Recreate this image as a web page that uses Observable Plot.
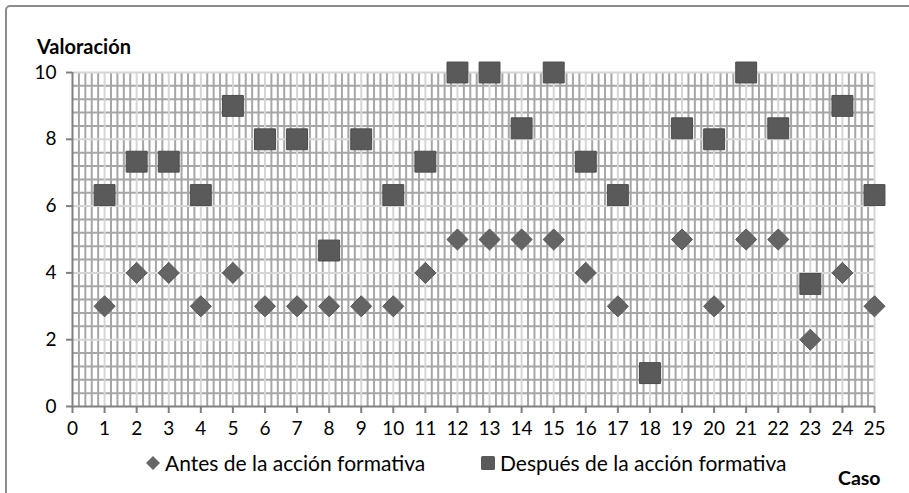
<!DOCTYPE html>
<html><head><meta charset="utf-8">
<script src="https://cdn.jsdelivr.net/npm/d3@7"></script>
<script src="https://cdn.jsdelivr.net/npm/@observablehq/plot@0.6"></script>
<style>
body{margin:0;background:#fff;}
#wrap{position:relative;width:909px;height:493px;overflow:hidden;font-family:Lato,"Open Sans",sans-serif;color:#000;}
#frame{position:absolute;left:5px;top:5px;width:930px;height:520px;border:2px solid #8c8c8c;border-radius:5px;box-sizing:border-box;}
#chart{position:absolute;left:0;top:0;}
.t{position:absolute;white-space:nowrap;line-height:1;}
.b{font-weight:bold;}
.leg{font-size:21px;}
.sw{position:absolute;}
</style></head>
<body><div id="wrap"><div id="frame"></div><div id="chart"></div>
<div class="t b" style="left:37px;top:36px;font-size:20px;">Valoración</div>
<div class="t b" style="left:838px;top:468px;font-size:19.5px;">Caso</div>
<svg class="sw" style="left:145px;top:455px" width="16" height="16"><path d="M8 1L15 8L8 15L1 8Z" fill="#666"/></svg>
<div class="t leg" style="left:165px;top:452px;">Antes de la acción formativa</div>
<svg class="sw" style="left:480px;top:455px" width="16" height="16"><rect x="1" y="1" width="14" height="14" rx="1.5" fill="#5a5a5a"/></svg>
<div class="t leg" style="left:500px;top:452px;">Después de la acción formativa</div>
</div>
<script>
const casos = [1,2,3,4,5,6,7,8,9,10,11,12,13,14,15,16,17,18,19,20,21,22,23,24,25];
const antes = [3,4,4,3,4,3,3,3,3,3,4,5,5,5,5,4,3,1,5,3,5,5,2,4,3];
const despues = [6.33,7.33,7.33,6.33,9,8,8,4.67,8,6.33,7.33,10,10,8.33,10,7.33,6.33,1,8.33,8,10,8.33,3.67,9,6.33];
const xTicks = [0,1,2,3,4,5,6,7,8,9,10,11,12,13,14,15,16,17,18,19,20,21,22,23,24,25];
const yTicks = [0,2,4,6,8,10];

function notInt(v){ return Math.abs(v - Math.round(v)) > 1e-6; }
const minorX = d3.range(0, 125).map(i => i / 5).filter(notInt);
const minorY = d3.range(0, 26).map(i => i * 0.4).filter(v => notInt(v / 2));

const antesData = casos.map((c, i) => ({caso: c, v: antes[i]}));
const despuesData = casos.map((c, i) => ({caso: c, v: despues[i]}));

const gridCol = "#a6a6a6", majorCol = "#d6d6d6", axisCol = "#808080";
const plot = Plot.plot({
  width: 909, height: 493,
  marginLeft: 72, marginRight: 35, marginTop: 72, marginBottom: 87,
  style: {fontFamily: "Lato, 'Open Sans', sans-serif", color: "#000", background: "transparent"},
  x: {domain: [0, 25]},
  y: {domain: [0, 10]},
  marks: [
    Plot.gridX(minorX, {stroke: gridCol, strokeWidth: 2, strokeOpacity: 1}),
    Plot.gridY(minorY, {stroke: gridCol, strokeWidth: 2, strokeOpacity: 1}),
    Plot.gridX(xTicks.slice(1), {stroke: majorCol, strokeWidth: 2, strokeOpacity: 1}),
    Plot.gridY(yTicks.slice(1), {stroke: majorCol, strokeWidth: 2, strokeOpacity: 1}),
    Plot.axisX({ticks: xTicks, tickSize: 7, tickPadding: 8, stroke: axisCol, strokeWidth: 2, fontSize: 19, fill: "#000", label: null, tickFormat: d => String(d)}),
    Plot.axisY({ticks: yTicks, tickSize: 6, tickPadding: 10, stroke: axisCol, strokeWidth: 2, fontSize: 19, fill: "#000", label: null, tickFormat: d => String(d)}),
    Plot.ruleX([0], {stroke: axisCol, strokeWidth: 2}),
    Plot.ruleY([0], {stroke: axisCol, strokeWidth: 2}),
    Plot.dot(antesData, {x: "caso", y: "v", symbol: "diamond2", r: 9.5, fill: "#646464", stroke: "#585858", strokeWidth: 1}),
    Plot.dot(despuesData, {x: "caso", y: "v", symbol: "square", r: 11.8, fill: "#5a5a5a", stroke: "#4c4c4c", strokeWidth: 1, strokeLinejoin: "round"})
  ]
});
document.getElementById("chart").appendChild(plot);
</script>
</body></html>
